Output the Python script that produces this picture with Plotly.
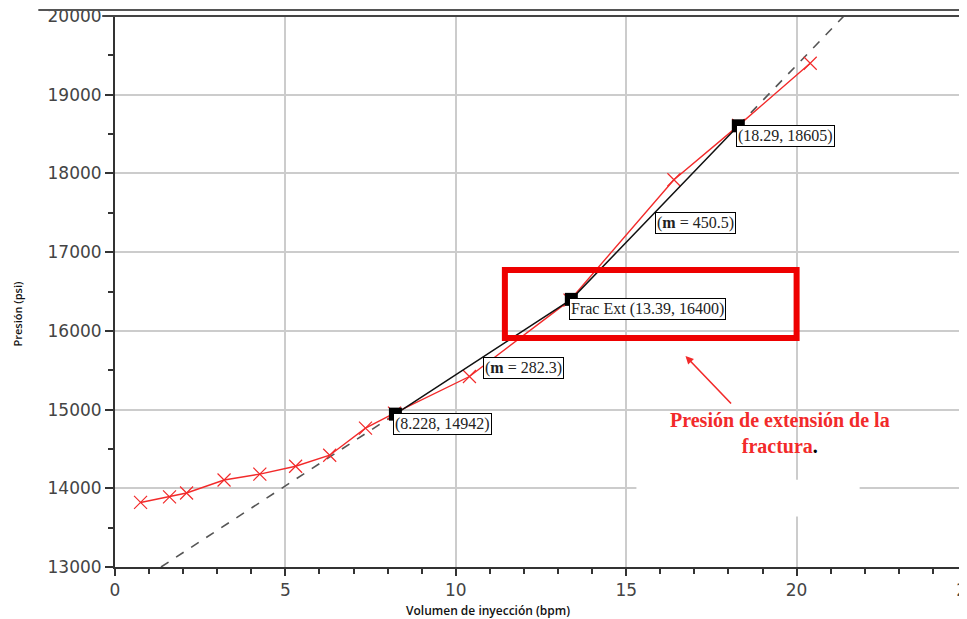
import plotly.graph_objects as go

# injection test: rate (bpm) vs pressure (psi)
rate = [0.75, 1.6, 2.1, 3.2, 4.25, 5.3, 6.3, 7.35, 8.2, 10.4, 13.35, 16.4, 18.3, 20.4]
pres = [13820, 13890, 13940, 14105, 14180, 14280, 14420, 14765, 14955, 15420, 16390, 17920, 18610, 19400]

# picked points and the two straight fits through them
pick_x = [8.228, 13.39, 18.29]
pick_y = [14942, 16400, 18605]
pick_lbl = ["(8.228, 14942)", "Frac Ext (13.39, 16400)", "(18.29, 18605)"]

# dashed extensions of the two fits (m = 282.3 below, m = 450.5 above)
ext_lo_x, ext_lo_y = [1.35, 8.228], [13000, 14942]
ext_hi_x, ext_hi_y = [18.29, 21.39], [18605, 20000]

slope_lbl = ["(<b>m</b> = 282.3)", "(<b>m</b> = 450.5)"]
slope_x = [10.79, 15.84]
slope_y = [15668, 17511]

RED = "#f22a2a"
SERIF = "Liberation Serif"

fig = go.Figure()
fig.add_trace(go.Scatter(x=ext_lo_x, y=ext_lo_y, mode="lines",
                         line=dict(color="#555555", width=1.6, dash="dash")))
fig.add_trace(go.Scatter(x=ext_hi_x, y=ext_hi_y, mode="lines",
                         line=dict(color="#555555", width=1.6, dash="dash")))
fig.add_trace(go.Scatter(x=rate, y=pres, mode="lines+markers",
                         line=dict(color=RED, width=1.4),
                         marker=dict(symbol="x-thin", size=13, line=dict(color=RED, width=1.2))))
fig.add_trace(go.Scatter(x=pick_x, y=pick_y, mode="lines+markers",
                         line=dict(color="#111111", width=1.5),
                         marker=dict(symbol="square", size=13, color="black")))

for x, y, t in zip(pick_x, pick_y, pick_lbl):
    fig.add_annotation(x=x, y=y, text=t, showarrow=False, xanchor="left", yanchor="top",
                       xshift=-2, yshift=1, bgcolor="white", bordercolor="black",
                       borderwidth=1, borderpad=1,
                       font=dict(family=SERIF, size=16, color="#222222"))
for x, y, t in zip(slope_x, slope_y, slope_lbl):
    fig.add_annotation(x=x, y=y, text=t, showarrow=False, xanchor="left", yanchor="top",
                       bgcolor="white", bordercolor="black", borderwidth=1, borderpad=1,
                       font=dict(family=SERIF, size=16, color="#222222"))

# red highlight box and call-out
fig.add_shape(type="rect", x0=11.44, x1=20.0, y0=15910, y1=16774,
              line=dict(color="#ee0000", width=6), layer="above")
fig.add_annotation(x=16.74, y=15681, ax=47, ay=49, text="", showarrow=True,
                   arrowhead=2, arrowsize=1, arrowwidth=1.6, arrowcolor=RED)
fig.add_annotation(x=19.5, y=14703, showarrow=False,
                   text="<b>Presión de extensión de la<br>fractura</b><span style='color:black'><b>.</b></span>",
                   font=dict(family=SERIF, size=20, color=RED), align="center")

# white patch over the grid (scan artifact)
fig.add_shape(type="rect", x0=15.3, x1=21.85, y0=13640, y1=14110,
              fillcolor="white", line=dict(width=0), layer="between")

# double frame line on top
fig.add_shape(type="line", xref="paper", yref="paper", x0=-0.09, x1=1, y0=1.011, y1=1.011,
              line=dict(color="#555555", width=2))
fig.add_shape(type="line", xref="paper", yref="paper", x0=-0.015, x1=1, y0=1.0, y1=1.0,
              line=dict(color="#444444", width=2))

# axis titles
fig.add_annotation(xref="paper", yref="paper", x=-0.125, y=0.46, text="Presión (psi)",
                   textangle=-90, showarrow=False,
                   font=dict(family="Open Sans", size=11, color="#111111", weight=600))
fig.add_annotation(xref="paper", yref="paper", x=0.438, y=-0.06, yanchor="top",
                   text="Volumen de inyección (bpm)", showarrow=False,
                   font=dict(family="Open Sans", size=12, color="#111111", weight=600))

tickfont = dict(family="DejaVu Sans", size=17, color="#444444")
fig.update_xaxes(range=[0, 25], tickvals=[0, 5, 10, 15, 20, 25], ticks="outside",
                 ticklen=7, tickwidth=2, tickcolor="#333333", tickfont=tickfont,
                 ticklabeloverflow="allow",
                 showgrid=True, gridcolor="#cccccc", gridwidth=1.5, zeroline=False,
                 showline=True, linecolor="#333333", linewidth=2, automargin=False,
                 minor=dict(dtick=1, ticks="outside", ticklen=5, tickwidth=2,
                            tickcolor="#333333", showgrid=False))
fig.update_yaxes(range=[13000, 20000], dtick=1000, tickformat="d", ticks="outside",
                 ticklen=8, tickwidth=2, tickcolor="#333333", tickfont=tickfont,
                 ticklabeloverflow="allow",
                 showgrid=True, gridcolor="#cccccc", gridwidth=1.5, zeroline=False,
                 showline=True, linecolor="#333333", linewidth=2, automargin=False,
                 minor=dict(dtick=500, ticks="outside", ticklen=5, tickwidth=2,
                            tickcolor="#333333", showgrid=False))
# page body adds an 8px offset, so the figure is sized to end at the window edge
fig.update_layout(width=959, height=611, showlegend=False,
                  margin=dict(l=107, r=0, t=8, b=52),
                  plot_bgcolor="white", paper_bgcolor="white")

fig.write_html("out.html")
